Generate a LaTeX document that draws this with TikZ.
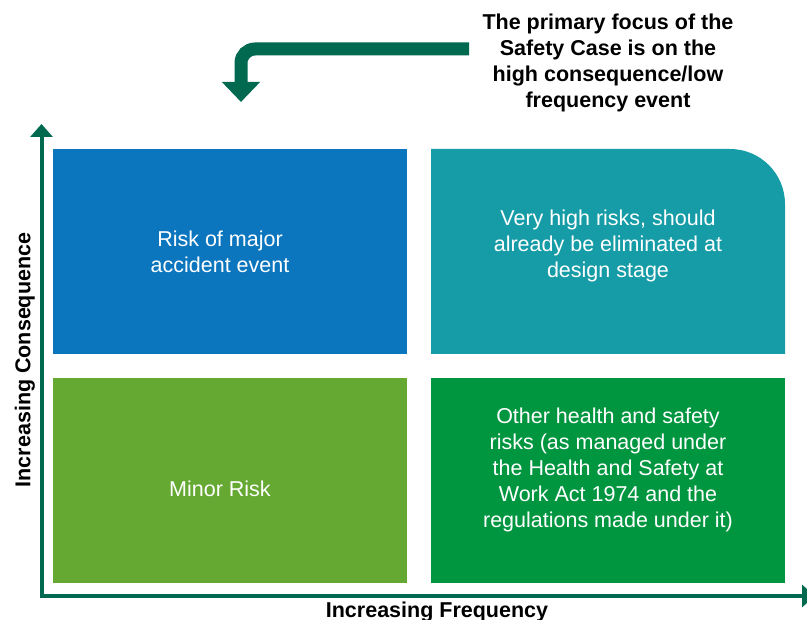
\documentclass[tikz,border=0pt]{standalone}
\usepackage{fontspec}
\setmainfont{Liberation Sans}
\usetikzlibrary{arrows.meta, positioning, backgrounds}

\definecolor{riskblue}{RGB}{11,117,190}
\definecolor{riskteal}{RGB}{22,156,167}
\definecolor{risklime}{RGB}{101,168,50}
\definecolor{riskgreen}{RGB}{0,150,64}
\definecolor{axisgreen}{RGB}{0,105,80}

\begin{document}
\begin{tikzpicture}[x=1pt,y=-1pt,node distance=24pt,
  quad/.style={rectangle,inner sep=0pt,outer sep=0pt,minimum width=354pt,minimum height=205pt},
  quadtext/.style={text=white,align=center,font=\fontsize{21.5pt}{26pt}\selectfont},
  axislabel/.style={font=\bfseries\fontsize{21.5pt}{26pt}\selectfont}]
 \useasboundingbox (0,0) rectangle (807,620);
 \node[quad,fill=riskblue,anchor=north west] (major) at (53,149) {};
 \node[quad,right=of major] (veryhigh) {};
 \node[quad,fill=risklime,below=of major] (minor) {};
 \node[quad,fill=riskgreen,right=of minor] (other) {};
 \begin{scope}[on background layer]
  \fill[riskteal] (veryhigh.south west) -- (veryhigh.north west)
   -- ([xshift=-55pt]veryhigh.north east) arc[start angle=90,end angle=0,radius=55pt]
   -- (veryhigh.south east) -- cycle;
 \end{scope}
 \node[quadtext] (majortext) at ([xshift=-10pt]major.center) {Risk of major\\accident event};
 \node[quadtext] (veryhightext) at ([yshift=6pt]veryhigh.center) {Very high risks, should\\already be eliminated at\\design stage};
 \node[quadtext] (minortext) at ([xshift=-10pt,yshift=-8pt]minor.center) {Minor Risk};
 \node[quadtext] (othertext) at ([yshift=11pt]other.center) {Other health and safety\\risks (as managed under\\the Health and Safety at\\Work Act 1974 and the\\regulations made under it)};
 % axes
 \coordinate (origin) at (41.5,596);
 \coordinate (ytip) at (41.5,124);
 \coordinate (xtip) at (815,596);
 \draw[axisgreen,line width=4pt,{Triangle[width=22pt,length=13pt]}-{Triangle[width=22pt,length=13pt]}] (ytip) -- (origin) -- (xtip);
 \node[axislabel,anchor=base] (freqlabel) at (437,617) {Increasing Frequency};
 \node[axislabel,anchor=base,rotate=90] (conslabel) at (30.5,360) {Increasing Consequence};
 % note and bent arrow
 \node[axislabel,align=center] (focus) at (608,63) {The primary focus of the\\Safety Case is on the\\high consequence/low\\frequency event};
 \coordinate (focusstart) at (469,49);
 \coordinate (focusend) at (241,102);
 \draw[axisgreen,line width=13pt,rounded corners=14pt,-{Triangle[width=37pt,length=20pt]}] (focusstart) -| (focusend);
\end{tikzpicture}
\end{document}
